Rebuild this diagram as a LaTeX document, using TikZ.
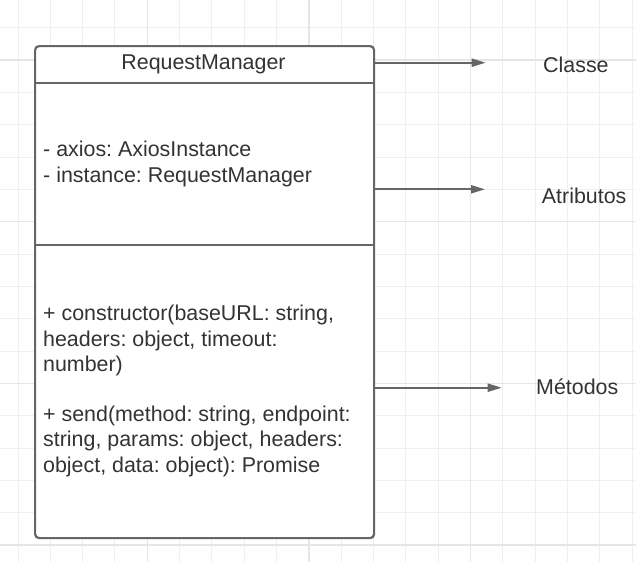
\documentclass[tikz,border=0pt]{standalone}
\usepackage{fontspec}
\setmainfont{Liberation Sans}
\usetikzlibrary{arrows.meta}
\definecolor{txt}{HTML}{333333}
\definecolor{edge}{HTML}{666666}
\definecolor{gminor}{HTML}{EFEFEF}
\definecolor{gmajor}{HTML}{E6E6E6}
\begin{document}
\frenchspacing
\begin{tikzpicture}[x=1pt,y=-1pt,
  minor/.style={draw=gminor,line width=1pt},
  major/.style={draw=gmajor,line width=1.3pt},
  umlbox/.style={draw=edge,line width=2.2pt,fill=white,rounded corners=4pt,inner sep=0pt},
  divider/.style={draw=edge,line width=2.2pt},
  pointer/.style={draw=edge,line width=2pt,-{Triangle[length=14pt,width=8pt]}},
  lbl/.style={text=txt,font=\fontsize{21.4}{25.5}\selectfont\frenchspacing,inner sep=0pt,anchor=base west},
  ]
\useasboundingbox (0,0) rectangle (636,584);
\fill[white] (0,0) rectangle (636,584);
% grid
\foreach \k in {0,...,19} {
  \pgfmathsetmacro\xx{18+32.33*\k}
  \draw[minor] (\xx,0) -- (\xx,562);
}
\foreach \k in {0,...,16} {
  \pgfmathsetmacro\yy{27.7+32.33*\k}
  \draw[minor] (0,\yy) -- (636,\yy);
}
\foreach \k in {4,9,14} {
  \pgfmathsetmacro\xx{18+32.33*\k}
  \draw[major] (\xx,0) -- (\xx,562);
}
\foreach \k in {1,6,11,16} {
  \pgfmathsetmacro\yy{27.7+32.33*\k}
  \draw[major] (0,\yy) -- (636,\yy);
}
% class box
\node[umlbox,minimum width=339pt,minimum height=492pt,anchor=north west] (box) at (34,45) {};
\coordinate (d1) at (0,82.7);
\coordinate (d2) at (0,245);
\draw[divider] (box.west |- d1) -- (box.east |- d1);
\draw[divider] (box.west |- d2) -- (box.east |- d2);
% texts
\node[lbl,anchor=base] (title) at (203.5,69) {RequestManager};
\node[lbl] (a1) at (43,156.5) {- axios: AxiosInstance};
\node[lbl] (a2) at (43,182) {- instance: RequestManager};
\node[lbl] (m1) at (43,320.5) {+ constructor(baseURL: string,};
\node[lbl] (m2) at (43,346) {headers: object, timeout:};
\node[lbl] (m3) at (43,371.5) {number)};
\node[lbl] (m4) at (43,421) {+ send(method: string, endpoint:};
\node[lbl] (m5) at (43,446.5) {string, params: object, headers:};
\node[lbl] (m6) at (43,472) {object, data: object): Promise};
% labels
\node[lbl] (lc) at (543,72.7) {Classe};
\node[lbl] (la) at (541.7,203.3) {Atributos};
\node[lbl] (lm) at (536,394.3) {Métodos};
% pointers
\coordinate (tc) at (485.7,62.7);
\coordinate (ta) at (485,189.3);
\coordinate (tm) at (501.7,387.7);
\draw[pointer] (box.east |- tc) -- (tc);
\draw[pointer] (box.east |- ta) -- (ta);
\draw[pointer] (box.east |- tm) -- (tm);
\end{tikzpicture}
\end{document}
